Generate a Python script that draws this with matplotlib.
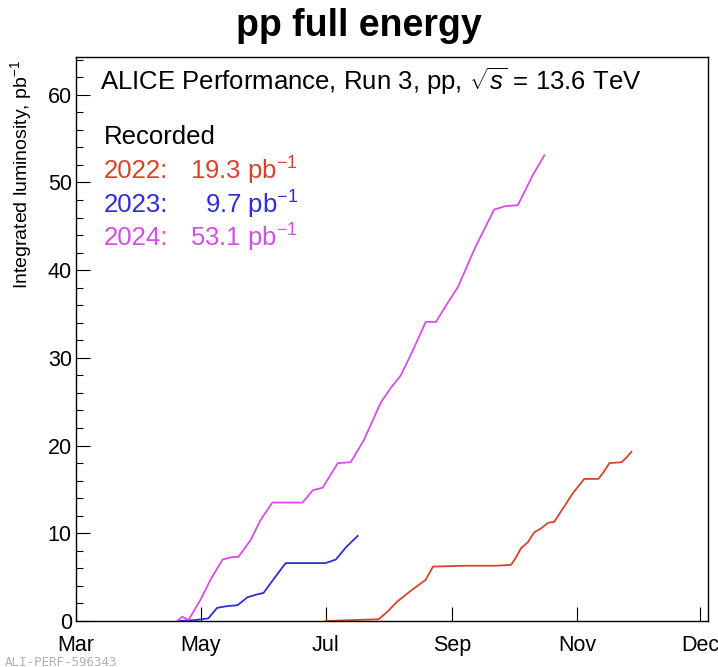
import matplotlib
matplotlib.use("Agg")
import matplotlib.pyplot as plt
from matplotlib.ticker import MultipleLocator

plt.rcParams["font.family"] = ["Liberation Sans", "DejaVu Sans"]
plt.rcParams["mathtext.fontset"] = "custom"
plt.rcParams["mathtext.rm"] = "Liberation Sans"
plt.rcParams["mathtext.it"] = "Liberation Sans:italic"

# days counted from 1 March, integrated luminosity in pb^-1
days_2022 = [122, 135, 148, 152, 157, 164, 171, 174.5, 190, 205, 212.7, 215, 217.6, 221, 224,
             227, 230.9, 233.8, 238, 243, 248.5, 255.4, 258, 260.8, 266.7, 269, 271.6]
lumi_2022 = [0, 0.1, 0.2, 1.0, 2.2, 3.5, 4.7, 6.2, 6.3, 6.3, 6.4, 7.2, 8.3, 9.0, 10.1,
             10.5, 11.2, 11.3, 12.8, 14.6, 16.2, 16.2, 17.0, 18.0, 18.1, 18.6, 19.3]

days_2023 = [51, 58, 64.7, 69, 74, 79, 83.8, 88, 91.7, 97, 102.5, 112, 122, 127, 132, 137.7]
lumi_2023 = [0, 0.1, 0.3, 1.5, 1.7, 1.8, 2.7, 3.0, 3.2, 4.9, 6.6, 6.6, 6.6, 7.0, 8.4, 9.7]

days_2024 = [49.5, 52, 55, 60.8, 66, 71.6, 76.5, 79.4, 85.3, 90.2, 96, 104, 110.8, 115.7,
             120.6, 128, 134.3, 140.7, 149, 154, 158.8, 165, 171, 176, 181, 186.8, 195,
             204.4, 210, 216, 223.5, 229]
lumi_2024 = [0, 0.5, 0.1, 2.4, 4.8, 7.0, 7.3, 7.3, 9.2, 11.5, 13.5, 13.5, 13.5, 14.9,
             15.2, 18.0, 18.1, 20.6, 24.9, 26.6, 28.0, 31.0, 34.1, 34.1, 36.0, 38.1, 42.5,
             46.9, 47.3, 47.4, 50.9, 53.1]

tick_days = [0, 61, 122, 184, 245, 305]
tick_names = ["Mar", "May", "Jul", "Sep", "Nov", "Dec"]

red = "#d8432e"
blue = "#2e2ed8"
magenta = "#d54ee6"

fig = plt.figure(figsize=(7.18, 6.67), dpi=100)
ax = fig.add_axes([76 / 718, 1 - 621 / 667, 632 / 718, 564 / 667])

ax.plot(days_2022, lumi_2022, color=red, lw=1.3)
ax.plot(days_2023, lumi_2023, color=blue, lw=1.3)
ax.plot(days_2024, lumi_2024, color=magenta, lw=1.3)

ax.set_xlim(0, 309)
ax.set_ylim(0, 64.3)
ax.set_xticks(tick_days)
ax.set_xticklabels(tick_names)
ax.yaxis.set_major_locator(MultipleLocator(10))
ax.yaxis.set_minor_locator(MultipleLocator(2))
ax.tick_params(axis="both", which="major", direction="in", length=10, width=0.8,
               labelsize=15.5, top=False, right=False)
ax.tick_params(axis="x", which="major", pad=10)
ax.tick_params(axis="y", which="major", pad=3)
ax.tick_params(axis="y", which="minor", direction="in", length=5, width=0.8)
ax.tick_params(axis="x", which="minor", bottom=False)
for s in ax.spines.values():
    s.set_linewidth(1.0)

fig.text(0.5, 1 - 26 / 667, "pp full energy", ha="center", va="center",
         fontsize=27, fontweight="bold")
fig.text(21 / 718, 1 - 60 / 667, r"Integrated luminosity, pb$^{-1}$", rotation=90,
         ha="center", va="top", fontsize=14)

def px(x, y):
    return x / 718, 1 - y / 667

fig.text(*px(100, 81), r"ALICE Performance, Run 3, pp, $\sqrt{s}$ = 13.6 TeV",
         ha="left", va="center", fontsize=18.5)
fig.text(*px(104, 137), "Recorded", ha="left", va="center", fontsize=18.5)

rows = [("2022:", "19.3", red, 171), ("2023:", "9.7", blue, 205), ("2024:", "53.1", magenta, 238)]
for year, val, col, y in rows:
    fig.text(*px(104, y), year, ha="left", va="center", fontsize=18.5, color=col)
    fig.text(*px(298, y), val + r" pb$^{-1}$", ha="right", va="center", fontsize=18.5, color=col)

fig.text(*px(5, 662), "ALI-PERF-596343", ha="left", va="center", fontsize=9,
         color="#b0b0b0", family="DejaVu Sans Mono")

fig.savefig("out.png", dpi=100)
